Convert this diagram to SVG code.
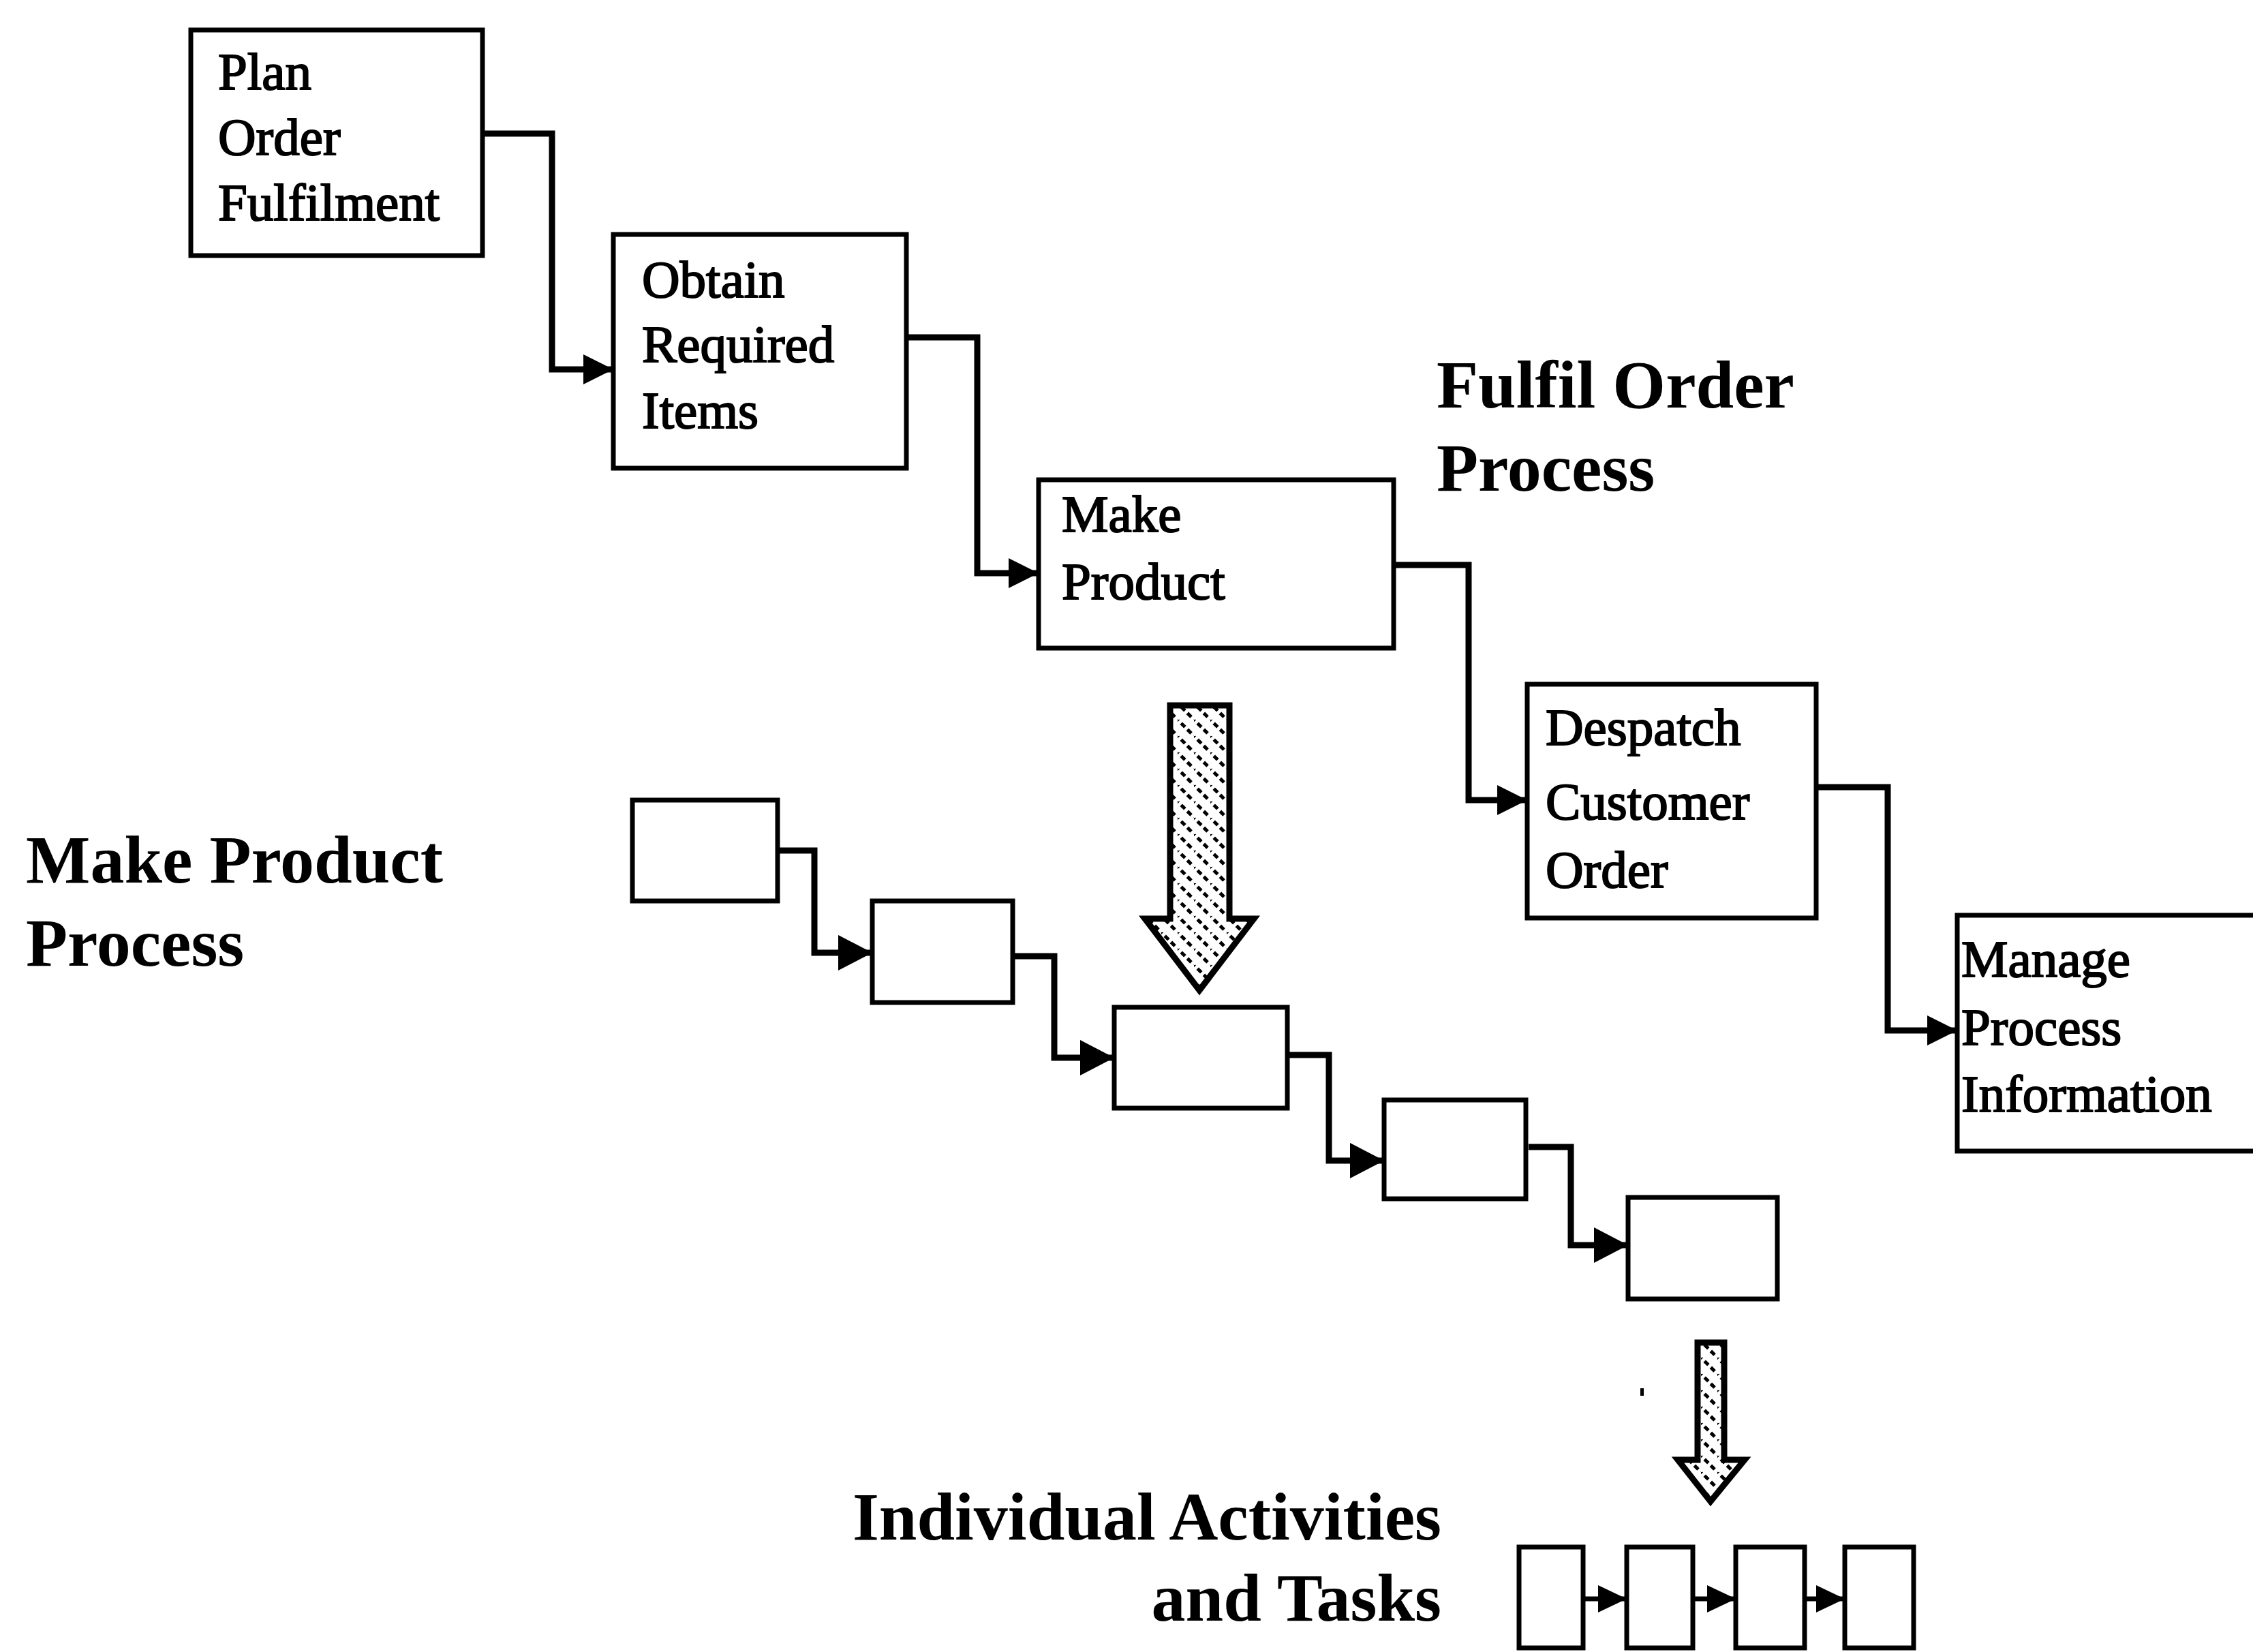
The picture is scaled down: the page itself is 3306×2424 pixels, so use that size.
<svg xmlns="http://www.w3.org/2000/svg" width="3306" height="2424" viewBox="0 0 3306 2424">
  <style>
    .box { fill: #fff; stroke: #000; stroke-width: 7; }
    .lbl { font-family: "Liberation Serif", "Times New Roman", serif; font-size: 77px; fill: #000; stroke: #000; stroke-width: 2; }
    .title { font-family: "Liberation Serif", "Times New Roman", serif; font-size: 100px; font-weight: bold; fill: #000; }
    .link { fill: none; stroke: #000; stroke-width: 9; stroke-linejoin: miter; }
    .link-s { fill: none; stroke: #000; stroke-width: 7; }
    .big-arrow { fill: url(#hatch); stroke: #000; stroke-width: 9; stroke-linejoin: miter; }
  </style>
  <defs>
    <marker id="head" markerUnits="userSpaceOnUse" viewBox="0 0 44 44" refX="44" refY="22" markerWidth="44" markerHeight="44" orient="auto">
      <path d="M0,0 L44,22 L0,44 Z" fill="#000"/>
    </marker>
    <marker id="head-m" markerUnits="userSpaceOnUse" viewBox="0 0 50 52" refX="50" refY="26" markerWidth="50" markerHeight="52" orient="auto">
      <path d="M0,0 L50,26 L0,52 Z" fill="#000"/>
    </marker>
    <marker id="head-s" markerUnits="userSpaceOnUse" viewBox="0 0 42 40" refX="42" refY="20" markerWidth="42" markerHeight="40" orient="auto">
      <path d="M0,0 L42,20 L0,40 Z" fill="#000"/>
    </marker>
    <!-- dotted diagonal hatching for the drill-down arrows -->
    <pattern id="hatch" patternUnits="userSpaceOnUse" width="24" height="24">
      <rect width="24" height="24" fill="#fff"/>
      <path d="M-4,-4 L28,28" stroke="#000" stroke-width="5" stroke-dasharray="8 5"/>
      <path d="M-16,8 L8,32" stroke="#000" stroke-width="4" stroke-dasharray="5 7"/>
    </pattern>
  </defs>

  <!-- titles -->
  <g id="title-fulfil">
    <text class="title" x="2108" y="598">Fulfil Order</text>
    <text class="title" x="2108" y="720">Process</text>
  </g>
  <g id="title-make">
    <text class="title" x="38" y="1295">Make Product</text>
    <text class="title" x="38" y="1417">Process</text>
  </g>
  <g id="title-tasks">
    <text class="title" x="2115" y="2259" text-anchor="end">Individual Activities</text>
    <text class="title" x="2115" y="2378" text-anchor="end">and Tasks</text>
  </g>

  <!-- connectors -->
  <g id="connectors">
    <path class="link" d="M708,196 H810 V542 H900" marker-end="url(#head)"/>
    <path class="link" d="M1330,495 H1434 V841 H1524" marker-end="url(#head)"/>
    <path class="link" d="M2045,829 H2155 V1174 H2241" marker-end="url(#head)"/>
    <path class="link" d="M2665,1155 H2770 V1512 H2872" marker-end="url(#head)"/>

    <path class="link" d="M1141,1248 H1195 V1398 H1280" marker-end="url(#head-m)"/>
    <path class="link" d="M1486,1403 H1547 V1552 H1635" marker-end="url(#head-m)"/>
    <path class="link" d="M1889,1548 H1950 V1703 H2031" marker-end="url(#head-m)"/>
    <path class="link" d="M2243,1683 H2305 V1827 H2389" marker-end="url(#head-m)"/>

    <path class="link-s" d="M2323,2346 H2387" marker-end="url(#head-s)"/>
    <path class="link-s" d="M2484,2346 H2547" marker-end="url(#head-s)"/>
    <path class="link-s" d="M2648,2346 H2707" marker-end="url(#head-s)"/>
  </g>

  <!-- order fulfilment process steps -->
  <g id="plan-order">
    <rect class="box" x="280" y="44" width="428" height="331"/>
    <text class="lbl" x="320" y="131">Plan</text>
    <text class="lbl" x="320" y="227">Order</text>
    <text class="lbl" x="320" y="323">Fulfilment</text>
  </g>
  <g id="obtain-items">
    <rect class="box" x="900" y="344" width="430" height="343"/>
    <text class="lbl" x="942" y="436">Obtain</text>
    <text class="lbl" x="942" y="531">Required</text>
    <text class="lbl" x="942" y="628">Items</text>
  </g>
  <g id="make-product">
    <rect class="box" x="1524" y="704" width="521" height="247"/>
    <text class="lbl" x="1558" y="780">Make</text>
    <text class="lbl" x="1558" y="879">Product</text>
  </g>
  <g id="despatch-order">
    <rect class="box" x="2241" y="1004" width="424" height="343"/>
    <text class="lbl" x="2268" y="1093">Despatch</text>
    <text class="lbl" x="2268" y="1202">Customer</text>
    <text class="lbl" x="2268" y="1302">Order</text>
  </g>
  <g id="manage-info">
    <rect class="box" x="2872" y="1343" width="450" height="346"/>
    <text class="lbl" x="2878" y="1433">Manage</text>
    <text class="lbl" x="2878" y="1533">Process</text>
    <text class="lbl" x="2878" y="1631">Information</text>
  </g>

  <!-- make product sub-process -->
  <g id="step-a"><rect class="box" x="928" y="1174" width="213" height="148"/></g>
  <g id="step-b"><rect class="box" x="1280" y="1322" width="206" height="149"/></g>
  <g id="step-c"><rect class="box" x="1635" y="1478" width="254" height="148"/></g>
  <g id="step-d"><rect class="box" x="2031" y="1614" width="208" height="145"/></g>
  <g id="step-e"><rect class="box" x="2389" y="1757" width="219" height="149"/></g>

  <!-- individual tasks -->
  <g id="task-1"><rect class="box" x="2229" y="2270" width="94" height="148"/></g>
  <g id="task-2"><rect class="box" x="2387" y="2270" width="97" height="148"/></g>
  <g id="task-3"><rect class="box" x="2547" y="2270" width="101" height="148"/></g>
  <g id="task-4"><rect class="box" x="2707" y="2270" width="101" height="148"/></g>

  <!-- drill-down arrows -->
  <g id="drill-make">
    <path class="big-arrow" d="M1717,1035 H1804 V1348 H1840 L1760,1453 L1680,1348 H1717 Z"/>
  </g>
  <g id="drill-tasks">
    <path class="big-arrow" d="M2491,1970 H2530 V2142 H2560 L2510,2203 L2462,2142 H2491 Z" stroke-width="8"/>
  </g>
  <rect x="2407" y="2037" width="5" height="11" fill="#000"/>
</svg>
